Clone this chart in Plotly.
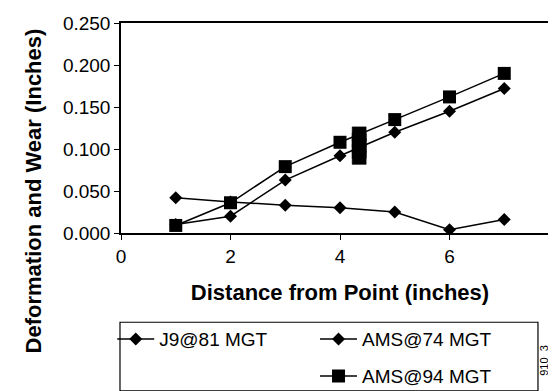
import plotly.graph_objects as go

distance = [1, 2, 3, 4, 5, 6, 7]
j9_81 = [0.042, 0.037, 0.033, 0.030, 0.025, 0.004, 0.016]
ams_74 = [0.010, 0.020, 0.063, 0.092, 0.120, 0.145, 0.172]
ams_94 = [0.009, 0.036, 0.079, 0.108, 0.135, 0.162, 0.190]
# solid block of stacked square markers near x = 4.35
cluster_x = [4.35, 4.35, 4.35, 4.35, 4.35]
cluster_y = [0.090, 0.097, 0.104, 0.111, 0.118]

x_ticks = [0, 2, 4, 6, 8]
y_ticks = [0.0, 0.05, 0.10, 0.15, 0.20, 0.25]

FONT = "Liberation Sans, Arial, sans-serif"
BLACK = "#000000"

fig = go.Figure()
fig.add_trace(go.Scatter(
    x=distance, y=j9_81, name="J9@81 MGT", mode="lines+markers",
    line=dict(color=BLACK, width=1.5),
    marker=dict(symbol="diamond", size=10, color=BLACK, line=dict(width=0)),
    legend="legend"))
fig.add_trace(go.Scatter(
    x=distance, y=ams_74, name="AMS@74 MGT", mode="lines+markers",
    line=dict(color=BLACK, width=1.5),
    marker=dict(symbol="diamond", size=10, color=BLACK, line=dict(width=0)),
    legend="legend2"))
fig.add_trace(go.Scatter(
    x=distance, y=ams_94, name="AMS@94 MGT", mode="lines+markers",
    line=dict(color=BLACK, width=1.5),
    marker=dict(symbol="square", size=13, color=BLACK, line=dict(width=0)),
    legend="legend3"))
fig.add_trace(go.Scatter(
    x=cluster_x, y=cluster_y, mode="lines+markers", showlegend=False,
    line=dict(color=BLACK, width=14),
    marker=dict(symbol="square", size=14, color=BLACK,
                line=dict(width=0.5, color=BLACK))))

legend_common = dict(
    bgcolor="rgba(0,0,0,0)", borderwidth=0, xanchor="left", yanchor="middle",
    font=dict(family=FONT, size=19, color=BLACK), itemwidth=37,
    orientation="v",
)

fig.update_layout(
    width=556, height=391,
    margin=dict(l=113, r=3, t=15, b=162),
    paper_bgcolor="white", plot_bgcolor="white",
    font=dict(family=FONT, color=BLACK),
    xaxis=dict(
        range=[0, 8], tickvals=x_ticks, ticktext=[str(v) for v in x_ticks],
        showgrid=False, zeroline=False, showline=True, linecolor=BLACK,
        linewidth=1.5, mirror=True, ticks="outside", ticklen=5,
        tickcolor=BLACK, tickfont=dict(family=FONT, size=19, color=BLACK),
        title=dict(text="<b>Distance from Point (inches)</b>",
                   font=dict(family=FONT, size=22, color=BLACK), standoff=19),
    ),
    yaxis=dict(
        range=[0, 0.25], tickvals=y_ticks,
        ticktext=[f"{v:.3f}" for v in y_ticks],
        showgrid=False, zeroline=False, showline=True, linecolor=BLACK,
        linewidth=1.5, mirror=True, ticks="outside", ticklen=5,
        tickcolor=BLACK, tickfont=dict(family=FONT, size=19, color=BLACK),
    ),
    legend=dict(x=-0.02, y=-0.505, **legend_common),
    legend2=dict(x=0.443, y=-0.505, **legend_common),
    legend3=dict(x=0.443, y=-0.682, **legend_common),
    shapes=[dict(type="rect", xref="paper", yref="paper",
                 x0=-0.0023, x1=0.952, y0=-0.752, y1=-0.425,
                 line=dict(color=BLACK, width=1.2), fillcolor="rgba(0,0,0,0)")],
    annotations=[
        dict(text="<b>Deformation and Wear (Inches)</b>", xref="paper",
             yref="paper", x=-0.2, y=0.20, xanchor="center", yanchor="middle",
             showarrow=False, textangle=-90,
             font=dict(family=FONT, size=22, color=BLACK)),
        dict(text="910_3", xref="paper", yref="paper",
             x=0.985, y=-0.69, showarrow=False, textangle=-90,
             font=dict(family=FONT, size=11, color=BLACK)),
    ],
)

fig.write_html("out.html")
